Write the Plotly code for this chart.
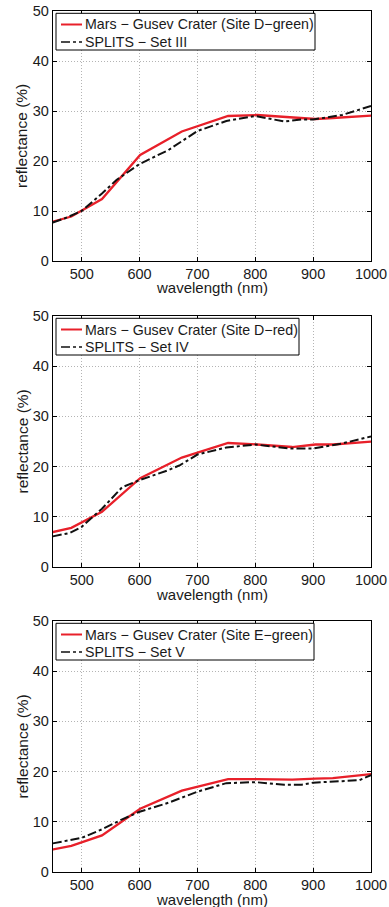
import plotly.graph_objects as go

# Pancam filter wavelengths (nm) used for the Mars spectra
mars_wl = [432, 482, 535, 601, 673, 753, 803, 864, 904, 934, 1009]
mars_d_green = [7.3, 8.9, 12.4, 21.2, 25.9, 29.0, 29.2, 28.7, 28.4, 28.6, 29.15]
mars_d_red = [6.5, 7.8, 11.0, 17.7, 21.8, 24.7, 24.4, 23.9, 24.4, 24.4, 25.05]
mars_e_green = [4.1, 5.2, 7.3, 12.6, 16.2, 18.5, 18.5, 18.4, 18.6, 18.7, 19.6]

# SPLITS laboratory spectra
lab_wl = [450, 470, 500, 535, 560, 600, 650, 700, 750, 800, 850, 880, 900, 950, 1000]
splits_iii = [7.7, 8.5, 10.0, 13.5, 16.2, 19.4, 22.2, 26.0, 28.0, 29.0, 27.9, 28.3, 28.3, 29.2, 31.0]
lab_wl2 = [450, 480, 500, 535, 570, 600, 650, 670, 700, 750, 800, 860, 900, 950, 1000]
splits_iv = [6.1, 6.8, 8.0, 11.6, 15.9, 17.3, 19.3, 20.3, 22.4, 23.8, 24.4, 23.6, 23.6, 24.6, 26.0]
lab_wl3 = [450, 480, 500, 535, 570, 600, 650, 700, 750, 800, 850, 880, 900, 950, 980, 1000]
splits_v = [5.7, 6.4, 6.8, 8.5, 10.5, 12.0, 13.8, 16.0, 17.7, 17.9, 17.4, 17.4, 17.8, 18.1, 18.3, 19.3]

mars_names = ["Mars \u2212 Gusev Crater (Site D\u2212green)",
              "Mars \u2212 Gusev Crater (Site D\u2212red)",
              "Mars \u2212 Gusev Crater (Site E\u2212green)"]
lab_names = ["SPLITS \u2212 Set III", "SPLITS \u2212 Set IV", "SPLITS \u2212 Set V"]

x_ticks = [500, 600, 700, 800, 900, 1000]
y_ticks = [0, 10, 20, 30, 40, 50]
x_title = "wavelength (nm)"
y_title = "reflectance (%)"

W, H = 389, 907
x_left, x_right = 52.8, 371
x_dom = [x_left / W, x_right / W]
panels_px = [(11, 261), (316, 567), (621, 872)]
legend_right_px = [315, 299, 314]

mars_sets = [mars_d_green, mars_d_red, mars_e_green]
lab_sets = [(lab_wl, splits_iii), (lab_wl2, splits_iv), (lab_wl3, splits_v)]

font_fam = "Liberation Sans, Arial, sans-serif"
txt = "#1a1a1a"
red = "#e8202a"
blk = "#111111"


def px(xp):
    return xp / W


def py(yp):
    return 1 - yp / H


fig = go.Figure()
layout = dict(width=W, height=H, autosize=False, showlegend=False,
              margin=dict(l=0, r=0, t=0, b=0, autoexpand=False),
              paper_bgcolor="white", plot_bgcolor="white",
              font=dict(family=font_fam, size=15, color=txt))
annotations = []
shapes = []

for i in range(3):
    sfx = "" if i == 0 else str(i + 1)
    xa = "x" + sfx
    ya = "y" + sfx
    fig.add_trace(go.Scatter(x=mars_wl, y=mars_sets[i], mode="lines",
                             name=mars_names[i], xaxis=xa, yaxis=ya,
                             line=dict(color=red, width=2.3)))
    fig.add_trace(go.Scatter(x=lab_sets[i][0], y=lab_sets[i][1], mode="lines",
                             name=lab_names[i], xaxis=xa, yaxis=ya,
                             line=dict(color=blk, width=2, dash="dashdot")))
    top, bot = panels_px[i]
    ydom = [py(bot), py(top)]
    axis_common = dict(showline=True, linecolor="black", linewidth=1, mirror="ticks",
                       ticks="inside", ticklen=4, tickcolor="black",
                       showgrid=True, gridcolor="#b4b4b4", griddash="1px,2px", gridwidth=1,
                       zeroline=False, automargin=False, ticklabeloverflow="allow",
                       tickfont=dict(size=14.5, color=txt))
    layout["xaxis" + sfx] = dict(axis_common, domain=x_dom, range=[450, 1000],
                                 tickvals=x_ticks, anchor=ya)
    layout["yaxis" + sfx] = dict(axis_common, domain=ydom, range=[0, 50],
                                 tickvals=y_ticks, anchor=xa)
    annotations.append(dict(text=x_title, xref="paper", yref="paper",
                            x=px((x_left + x_right) / 2), y=py(bot + 27),
                            xanchor="center", yanchor="middle", showarrow=False,
                            font=dict(size=15, color=txt)))
    annotations.append(dict(text=y_title, xref="paper", yref="paper",
                            x=px(22), y=py((top + bot) / 2), textangle=-90,
                            xanchor="center", yanchor="middle", showarrow=False,
                            font=dict(size=15.5, color=txt)))

    # legend box (drawn by hand to match the compact original)
    box_top, box_bot = top + 2.3, top + 39
    row1, row2 = top + 13.5, top + 31
    shapes.append(dict(type="rect", xref="paper", yref="paper",
                       x0=px(56), x1=px(legend_right_px[i]), y0=py(box_bot), y1=py(box_top),
                       line=dict(color="black", width=1), fillcolor="white", layer="above"))
    shapes.append(dict(type="line", xref="paper", yref="paper",
                       x0=px(61), x1=px(82), y0=py(row1), y1=py(row1),
                       line=dict(color=red, width=2), layer="above"))
    shapes.append(dict(type="line", xref="paper", yref="paper",
                       x0=px(61), x1=px(82), y0=py(row2), y1=py(row2),
                       line=dict(color=blk, width=1.6, dash="dashdot"), layer="above"))
    annotations.append(dict(text=mars_names[i], xref="paper", yref="paper",
                            x=px(83), y=py(row1), xanchor="left", yanchor="middle",
                            showarrow=False, font=dict(size=14.2, color=txt)))
    annotations.append(dict(text=lab_names[i], xref="paper", yref="paper",
                            x=px(83), y=py(row2), xanchor="left", yanchor="middle",
                            showarrow=False, font=dict(size=14.2, color=txt)))

layout["annotations"] = annotations
layout["shapes"] = shapes
fig.update_layout(**layout)
# remove the browser's default 8 px page margin so the figure fills the window
fig.write_html("out.html", config={"displayModeBar": False},
               post_script="document.body.style.margin='0px';"
                           "document.body.style.overflow='hidden';")
